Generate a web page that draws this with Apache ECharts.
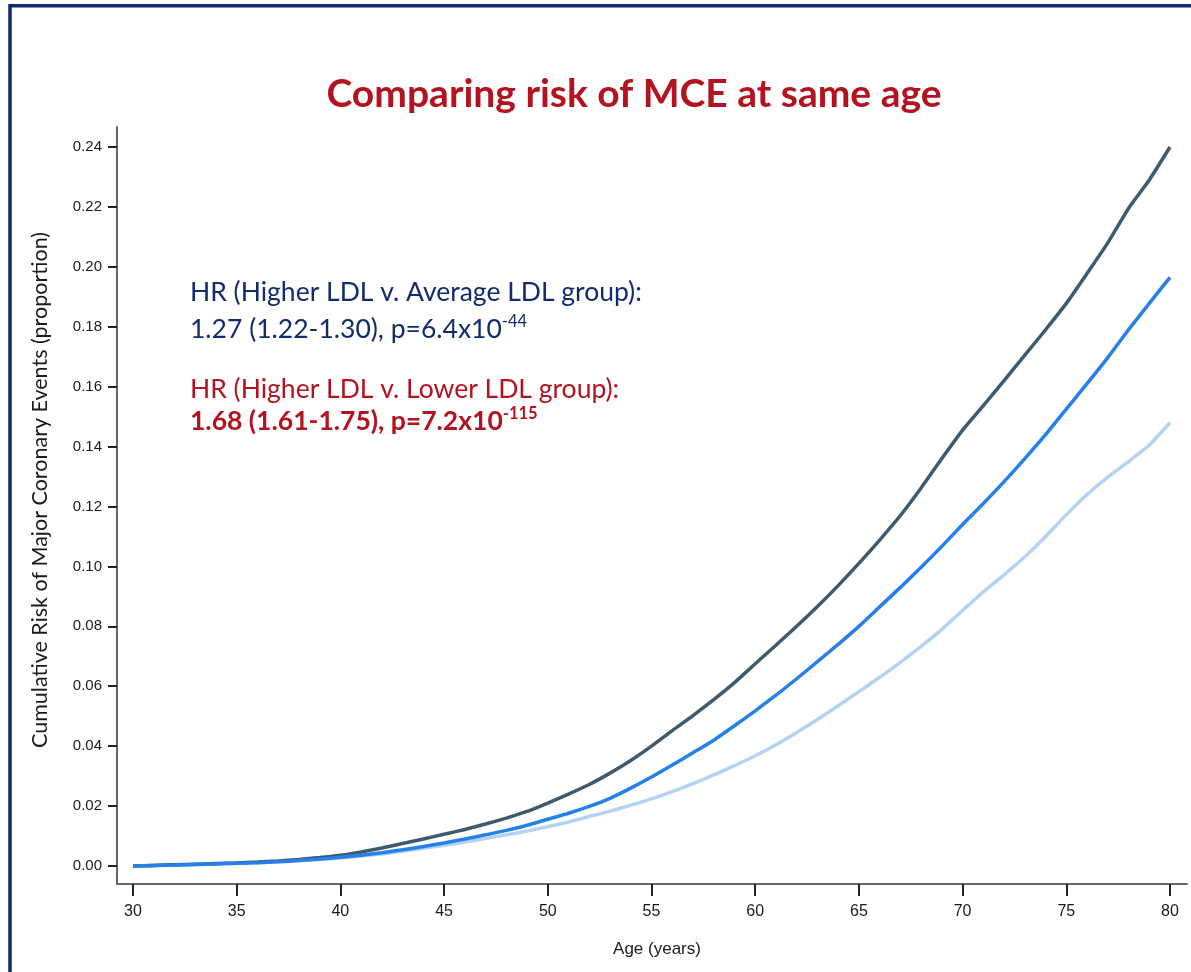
<!DOCTYPE html>
<html>
<head>
<meta charset="utf-8">
<script src="https://cdn.jsdelivr.net/npm/echarts@6/dist/echarts.min.js"></script>
<style>
  html, body { margin: 0; padding: 0; background: #ffffff; }
  #chart { width: 1191px; height: 972px; }
</style>
</head>
<body>
<div id="chart"></div>
<script>
// Age in years (x axis)
const ages = [30,31,32,33,34,35,36,37,38,39,40,41,42,43,44,45,46,47,48,49,50,
              51,52,53,54,55,56,57,58,59,60,61,62,63,64,65,66,67,68,69,70,
              71,72,73,74,75,76,77,78,79,80];

// Cumulative risk of major coronary events, by LDL group
const higherLDL = [0.0000,0.0002,0.0004,0.0006,0.0008,0.0010,0.0013,0.0017,0.0022,0.0028,0.0036,
                   0.0047,0.0060,0.0075,0.0090,0.0106,0.0122,0.0140,0.0160,0.0182,0.0210,
                   0.0240,0.0272,0.0310,0.0352,0.0400,0.0452,0.0502,0.0555,0.0612,0.0675,
                   0.0737,0.0800,0.0866,0.0936,0.1010,0.1088,0.1170,0.1262,0.1360,0.1455,
                   0.1537,0.1620,0.1705,0.1790,0.1878,0.1978,0.2080,0.2195,0.2290,0.2400];
const averageLDL = [0.0000,0.0002,0.0003,0.0005,0.0007,0.0009,0.0011,0.0014,0.0018,0.0023,0.0029,
                    0.0036,0.0044,0.0054,0.0065,0.0077,0.0090,0.0104,0.0119,0.0136,0.0156,
                    0.0176,0.0199,0.0226,0.0260,0.0297,0.0337,0.0378,0.0420,0.0468,0.0518,
                    0.0570,0.0625,0.0682,0.0740,0.0800,0.0865,0.0930,0.0997,0.1067,0.1140,
                    0.1210,0.1283,0.1360,0.1440,0.1525,0.1610,0.1697,0.1790,0.1878,0.1965];
const lowerLDL = [0.0000,0.0002,0.0003,0.0005,0.0007,0.0009,0.0011,0.0014,0.0018,0.0022,0.0027,
                  0.0033,0.0040,0.0049,0.0059,0.0069,0.0080,0.0092,0.0104,0.0117,0.0131,
                  0.0147,0.0165,0.0183,0.0203,0.0224,0.0248,0.0275,0.0304,0.0335,0.0368,
                  0.0405,0.0446,0.0489,0.0535,0.0582,0.0630,0.0680,0.0733,0.0790,0.0853,
                  0.0915,0.0972,0.1032,0.1100,0.1172,0.1240,0.1298,0.1350,0.1405,0.1480];

// Tick positions
const xTicks = [30,35,40,45,50,55,60,65,70,75,80];
const yTicks = [0,0.02,0.04,0.06,0.08,0.10,0.12,0.14,0.16,0.18,0.20,0.22,0.24];

const titleText = 'Comparing risk of MCE at same age';
const xTitle = 'Age (years)';
const yTitle = 'Cumulative Risk of Major Coronary Events (proportion)';
const hrAverage = ['HR (Higher LDL v. Average LDL group):', '1.27 (1.22-1.30), p=6.4x10', '-44'];
const hrLower = ['HR (Higher LDL v. Lower LDL group):', '1.68 (1.61-1.75), p=7.2x10', '-115'];

const NAVY = '#102c6c';
const RED = '#b3121f';
const tickFont = '"Liberation Sans Narrow", "Liberation Sans", Arial, sans-serif';
const textFont = 'Lato, "Open Sans", sans-serif';

function pairs(ys) { return ages.map((a, i) => [a, ys[i]]); }

const chart = echarts.init(document.getElementById('chart'), null, { renderer: 'canvas' });

const lineCommon = { type: 'line', showSymbol: false, smooth: 0.2 };

chart.setOption({
  backgroundColor: '#ffffff',
  animation: false,
  grid: { left: 117, right: 4, top: 127, bottom: 88, containLabel: false },
  xAxis: {
    type: 'value',
    min: 29.23, max: 80.82,
    axisLine: { show: true, onZero: false, lineStyle: { color: '#666666', width: 2 } },
    axisTick: { show: true, customValues: xTicks, length: 12, lineStyle: { color: '#222222', width: 2 } },
    axisLabel: { customValues: xTicks, margin: 20, color: '#1a1a1a', fontSize: 16, fontFamily: tickFont,
                 formatter: v => String(Math.round(v)) },
    splitLine: { show: false }
  },
  yAxis: {
    type: 'value',
    min: -0.00601, max: 0.24668,
    axisLine: { show: true, onZero: false, lineStyle: { color: '#666666', width: 2 } },
    axisTick: { show: true, customValues: yTicks, length: 9, lineStyle: { color: '#222222', width: 2 } },
    axisLabel: { customValues: yTicks, margin: 15, color: '#1a1a1a', fontSize: 15, fontFamily: tickFont,
                 formatter: v => v.toFixed(2) },
    splitLine: { show: false }
  },
  series: [
    Object.assign({ name: 'Lower LDL', data: pairs(lowerLDL), z: 2,
      lineStyle: { color: '#b3d3f6', width: 3.5 } }, lineCommon),
    Object.assign({ name: 'Higher LDL', data: pairs(higherLDL), z: 3,
      lineStyle: { color: '#3e5a6d', width: 3.5 } }, lineCommon),
    Object.assign({ name: 'Average LDL', data: pairs(averageLDL), z: 4,
      lineStyle: { color: '#2680ea', width: 3.5 } }, lineCommon)
  ],
  graphic: [
    // frame
    { type: 'rect', shape: { x: 10, y: 5.7, width: 1400, height: 1200 }, silent: true,
      style: { fill: null, stroke: '#0c2d6b', lineWidth: 3.5 } },
    // title
    { type: 'text', x: 634, y: 94, silent: true,
      style: { text: titleText, fill: RED, font: 'bold 39px ' + textFont, align: 'center', verticalAlign: 'middle' } },
    // axis titles
    { type: 'text', x: 657, y: 949, silent: true,
      style: { text: xTitle, fill: '#1a1a1a', font: '17px ' + tickFont, align: 'center', verticalAlign: 'middle' } },
    { type: 'text', x: 40, y: 490, rotation: Math.PI / 2, silent: true,
      style: { text: yTitle, fill: '#1a1a1a', font: '21.5px ' + textFont, align: 'center', verticalAlign: 'middle' } },
    // hazard ratio annotations
    { type: 'text', x: 190, y: 292, silent: true,
      style: { text: hrAverage[0], fill: NAVY, font: '26.5px ' + textFont, align: 'left', verticalAlign: 'middle' } },
    { type: 'text', x: 190, y: 329, silent: true,
      style: { text: '{m|' + hrAverage[1] + '}{s|' + hrAverage[2] + '}', align: 'left', verticalAlign: 'middle',
        rich: { m: { fill: NAVY, font: '26.5px ' + textFont, lineHeight: 32 },
                s: { fill: NAVY, font: '16.5px ' + textFont, lineHeight: 32, verticalAlign: 'top' } } } },
    { type: 'text', x: 190, y: 389, silent: true,
      style: { text: hrLower[0], fill: RED, font: '26.5px ' + textFont, align: 'left', verticalAlign: 'middle' } },
    { type: 'text', x: 190, y: 421, silent: true,
      style: { text: '{m|' + hrLower[1] + '}{s|' + hrLower[2] + '}', align: 'left', verticalAlign: 'middle',
        rich: { m: { fill: RED, font: 'bold 26.5px ' + textFont, lineHeight: 32 },
                s: { fill: RED, font: 'bold 16.5px ' + textFont, lineHeight: 32, verticalAlign: 'top' } } } }
  ]
});
</script>
</body>
</html>
